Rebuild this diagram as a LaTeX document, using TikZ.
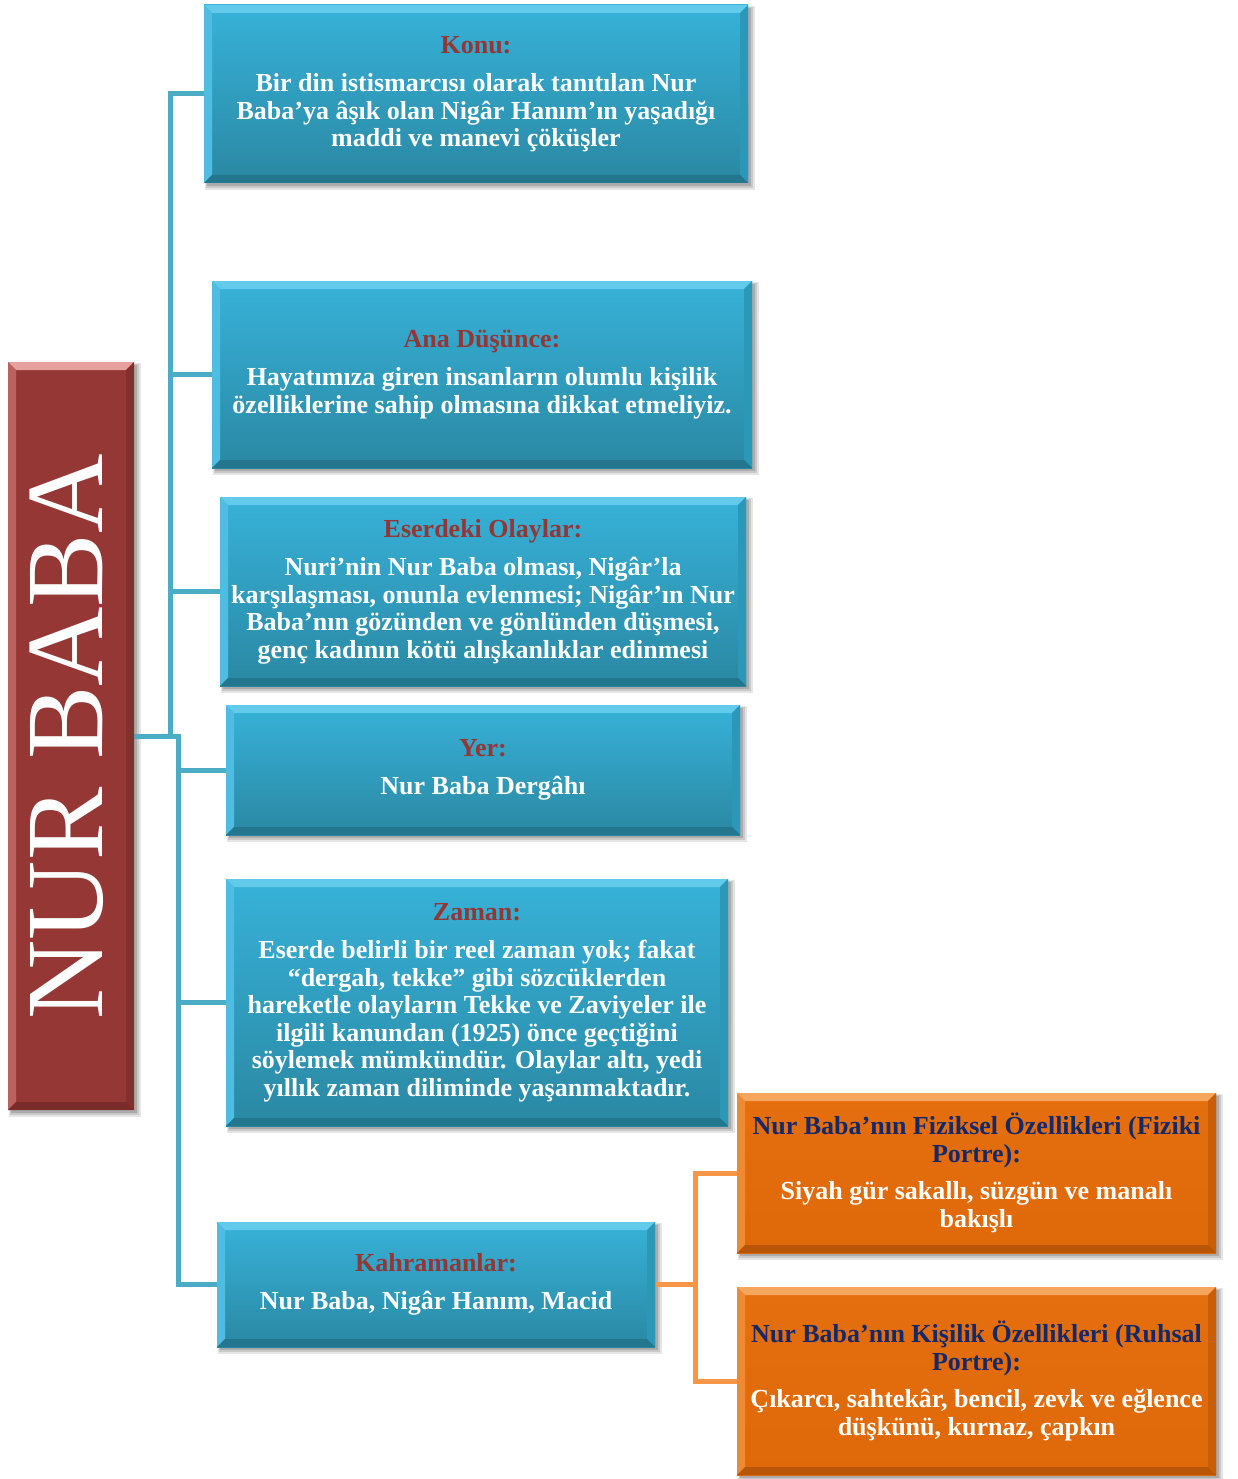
\documentclass[tikz,border=0pt]{standalone}
\usepackage{fontspec}
\setmainfont{Liberation Serif}
\usetikzlibrary{backgrounds,calc}
\definecolor{bA}{HTML}{37B2D9}
\definecolor{bB}{HTML}{2A88A3}
\definecolor{bT}{HTML}{62CBEB}
\definecolor{bL}{HTML}{4DBDE2}
\definecolor{bR}{HTML}{2B98B8}
\definecolor{bD}{HTML}{22778F}
\definecolor{rA}{HTML}{953735}
\definecolor{rT}{HTML}{E6A09E}
\definecolor{rL}{HTML}{BB615E}
\definecolor{rR}{HTML}{82302E}
\definecolor{rD}{HTML}{7A2C2A}
\definecolor{oA}{HTML}{E56F0E}
\definecolor{oB}{HTML}{DF6808}
\definecolor{oT}{HTML}{F6A55C}
\definecolor{oL}{HTML}{EE8A32}
\definecolor{oR}{HTML}{C95E08}
\definecolor{oD}{HTML}{B85507}
\definecolor{tred}{HTML}{943634}
\definecolor{tnavy}{HTML}{14296A}
\definecolor{lblue}{HTML}{4BACC6}
\definecolor{lorange}{HTML}{F79646}
\newcommand\bodyfont{\fontsize{26}{27.5}\selectfont\bfseries}
\newcommand\mybevel[5]{%
\fill[#2] (path picture bounding box.north west) -- (path picture bounding box.north east) -- ([shift={(-#1,-#1)}]path picture bounding box.north east) -- ([shift={(#1,-#1)}]path picture bounding box.north west) -- cycle;
\fill[#3] (path picture bounding box.north west) -- (path picture bounding box.south west) -- ([shift={(#1,#1)}]path picture bounding box.south west) -- ([shift={(#1,-#1)}]path picture bounding box.north west) -- cycle;
\fill[#4] (path picture bounding box.north east) -- (path picture bounding box.south east) -- ([shift={(-#1,#1)}]path picture bounding box.south east) -- ([shift={(-#1,-#1)}]path picture bounding box.north east) -- cycle;
\fill[#5] (path picture bounding box.south west) -- (path picture bounding box.south east) -- ([shift={(-#1,#1)}]path picture bounding box.south east) -- ([shift={(#1,#1)}]path picture bounding box.south west) -- cycle;
}
\newcommand\boxshadow[1]{%
\fill[black,opacity=.10] ([shift={(1pt,-7pt)}]#1.south west) rectangle ([shift={(7pt,-1pt)}]#1.north east);
\fill[black,opacity=.12] ([shift={(2pt,-5pt)}]#1.south west) rectangle ([shift={(5pt,-2pt)}]#1.north east);
\fill[black,opacity=.15] ([shift={(3pt,-3pt)}]#1.south west) rectangle ([shift={(3pt,-3pt)}]#1.north east);
}
\tikzset{
 bluebox/.style={rectangle, inner sep=0pt, top color=bA, bottom color=bB, text=white, align=center, font=\bodyfont, path picture={\mybevel{8pt}{bT}{bL}{bR}{bD}}},
 orangebox/.style={rectangle, inner sep=0pt, top color=oA, bottom color=oB, text=white, align=center, font=\bodyfont, path picture={\mybevel{8pt}{oT}{oL}{oR}{oD}}},
 redbox/.style={rectangle, inner sep=0pt, fill=rA, path picture={\mybevel{8pt}{rT}{rL}{rR}{rD}}},
 bconn/.style={draw=lblue, line width=5pt},
 oconn/.style={draw=lorange, line width=5pt},
}
\begin{document}
\begin{tikzpicture}[x=1pt,y=-1pt]
\useasboundingbox (0,0) rectangle (1238,1479);
% boxes
\node[redbox, minimum width=126pt, minimum height=748pt] (nur) at (71,736) {};
\node[rotate=90, text=white, inner sep=0pt, font=\fontsize{110}{110}\selectfont] (nurtxt) at (67,737) {NUR BABA};

\node[bluebox, minimum width=544pt, minimum height=178pt] (konu) at (476,94)
 {\textcolor{tred}{Konu:}\\[11pt]Bir din istismarcısı  olarak tanıtılan Nur\\Baba’ya âşık olan Nigâr Hanım’ın yaşadığı\\maddi ve manevi çöküşler};
\node[bluebox, minimum width=540pt, minimum height=187pt] (ana) at (482,374.5)
 {\textcolor{tred}{Ana Düşünce:}\\[11pt]Hayatımıza giren insanların olumlu kişilik\\özelliklerine sahip olmasına dikkat etmeliyiz.};
\node[bluebox, minimum width=526pt, minimum height=189pt] (ese) at (483,591.5)
 {\textcolor{tred}{Eserdeki Olaylar:}\\[11pt]Nuri’nin Nur Baba olması, Nigâr’la\\karşılaşması, onunla evlenmesi; Nigâr’ın Nur\\Baba’nın gözünden ve gönlünden düşmesi,\\genç kadının kötü alışkanlıklar edinmesi};
\node[bluebox, minimum width=514pt, minimum height=130pt] (yer) at (483,770)
 {\textcolor{tred}{Yer:}\\[11pt]Nur Baba Dergâhı};
\node[bluebox, minimum width=502pt, minimum height=247pt] (zam) at (477,1002.5)
 {\textcolor{tred}{Zaman:}\\[11pt]Eserde belirli bir reel zaman yok; fakat\\“dergah, tekke” gibi sözcüklerden\\hareketle olayların Tekke ve Zaviyeler ile\\ilgili kanundan (1925) önce geçtiğini\\söylemek mümkündür. Olaylar altı, yedi\\yıllık zaman diliminde yaşanmaktadır.};
\node[bluebox, minimum width=438pt, minimum height=125pt] (kah) at (436,1284.5)
 {\textcolor{tred}{Kahramanlar:}\\[11pt]Nur Baba, Nigâr Hanım, Macid};
\node[orangebox, minimum width=479pt, minimum height=160pt] (fiz) at (976.5,1173)
 {\textcolor{tnavy}{Nur Baba’nın Fiziksel Özellikleri (Fiziki}\\\textcolor{tnavy}{Portre):}\\[10pt]Siyah gür sakallı, süzgün ve manalı\\bakışlı};
\node[orangebox, minimum width=479pt, minimum height=188pt] (kis) at (976.5,1381)
 {\textcolor{tnavy}{Nur Baba’nın Kişilik Özellikleri (Ruhsal}\\\textcolor{tnavy}{Portre):}\\[10pt]Çıkarcı, sahtekâr, bencil, zevk ve eğlence\\düşkünü, kurnaz, çapkın};

% background, shadows and connectors behind boxes
\begin{scope}[on background layer]
\fill[white] (0,0) rectangle (1238,1479);
\foreach \n in {nur,konu,ana,ese,yer,zam,kah,fiz,kis}{\boxshadow{\n}}
\coordinate (j1) at ($(nur.east)+(36pt,0)$);
\coordinate (j2) at ($(nur.east)+(44pt,0)$);
\draw[bconn] (nur.east) -- ([xshift=3pt]j2);
\draw[bconn] (konu.west) -| (j1);
\draw[bconn] (ana.west) -| (j1);
\draw[bconn] (ese.west) -| (j1);
\draw[bconn] (yer.west) -| (j2);
\draw[bconn] (zam.west) -| (j2);
\draw[bconn] (kah.west) -| (j2);
\coordinate (k1) at ($(kah.east)+(40pt,0)$);
\draw[oconn] (kah.east) -- (k1);
\draw[oconn] (fiz.west) -| (k1);
\draw[oconn] (kis.west) -| (k1);
\end{scope}
\end{tikzpicture}
\end{document}
